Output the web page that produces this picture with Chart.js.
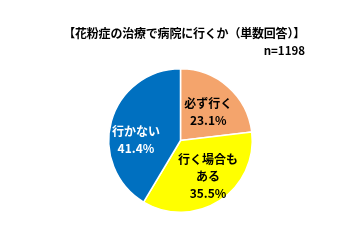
<!DOCTYPE html>
<html>
<head>
<meta charset="utf-8">
<script src="https://cdn.jsdelivr.net/npm/chart.js@4"></script>
<style>
  html, body { margin: 0; padding: 0; background: #fff; }
  #wrap { position: relative; width: 360px; height: 240px; }
  #title { position: absolute; right: 55px; top: 24px; font: bold 12px "Noto Sans CJK JP", sans-serif; color: #000; white-space: nowrap; letter-spacing: -0.2px; }
  #sub { position: absolute; right: 55px; top: 42px; font: bold 11.5px "Noto Sans CJK JP", sans-serif; color: #000; }
  canvas { position: absolute; left: 0; top: 0; }
</style>
</head>
<body>
<div id="wrap">
  <canvas id="pie" width="360" height="240"></canvas>
  <div id="title">【花粉症の治療で病院に行くか（単数回答）】</div>
  <div id="sub">n=1198</div>
</div>
<script>
// データ
const categories = [["必ず行く"], ["行く場合も", "ある"], ["行かない"]];
const values = [23.1, 35.5, 41.4];
const colors = ["#F4A46C", "#FFFF00", "#0070C0"];
const labelColors = ["#000", "#000", "#fff"];
const labelOffsets = [[4, -1.5], [8, 6], [-10, 9]];

// ラベルを描くプラグイン
const sliceLabels = {
    id: "sliceLabels",
    afterDatasetsDraw(chart) {
        const ctx = chart.ctx;
        const meta = chart.getDatasetMeta(0);
        ctx.save();
        ctx.font = "bold 12px 'Noto Sans CJK JP', sans-serif";
        ctx.textAlign = "center";
        ctx.textBaseline = "middle";
        meta.data.forEach((arc, i) => {
            const p = arc.tooltipPosition();
            const lines = categories[i].concat([values[i].toFixed(1) + "%"]);
            const lh = 17;
            const x = p.x + labelOffsets[i][0];
            let y = p.y + labelOffsets[i][1] - (lines.length - 1) * lh / 2;
            ctx.fillStyle = labelColors[i];
            lines.forEach(t => {
                ctx.fillText(t, x, y);
                y += lh;
            });
        });
        ctx.restore();
    }
};

new Chart(document.getElementById("pie"), {
    type: "pie",
    data: {
        labels: categories.map(c => c.join("")),
        datasets: [{
            data: values,
            backgroundColor: colors,
            borderColor: "#fff",
            borderWidth: 1.5
        }]
    },
    options: {
        responsive: false,
        animation: false,
        layout: { padding: { left: 108, right: 107, top: 68, bottom: 27 } },
        plugins: {
            legend: { display: false },
            tooltip: { enabled: false }
        }
    },
    plugins: [sliceLabels]
});
</script>
</body>
</html>
